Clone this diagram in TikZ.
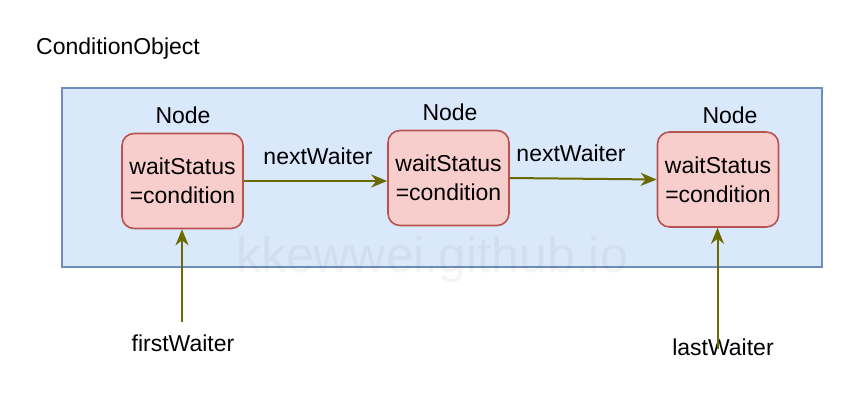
\documentclass[tikz,border=0pt]{standalone}
\usepackage{fontspec}
\setmainfont{Liberation Sans}
\usetikzlibrary{arrows.meta}
\definecolor{boxfill}{HTML}{DAE8FC}
\definecolor{boxline}{HTML}{6C8EBF}
\definecolor{nodefill}{HTML}{F8CECC}
\definecolor{nodeline}{HTML}{B85450}
\definecolor{arrowc}{HTML}{6B6A00}
\tikzset{
  txt/.style={font=\fontsize{23}{29}\selectfont, inner sep=0pt, align=center},
  waitnode/.style={draw=nodeline, fill=nodefill, line width=1.6pt, rounded corners=12pt,
     minimum width=121pt, minimum height=95pt, inner sep=0pt, align=center,
     font=\fontsize{23}{29}\selectfont},
  ptr/.style={draw=arrowc, line width=2pt, -{Stealth[length=16pt,width=13pt,inset=5pt]}}
}
\begin{document}
\begin{tikzpicture}[x=1pt,y=-1pt]
\useasboundingbox (0,0) rectangle (852,410);
\fill[white] (0,0) rectangle (852,410);
\node[txt, anchor=west] (title) at (36,48.5) {ConditionObject};
\node[draw=boxline, fill=boxfill, line width=1.6pt, minimum width=760pt, minimum height=179pt, inner sep=0pt] (obj) at (442,177.5) {};
\node[waitnode] (n1) at (182.5,181) {waitStatus\\=condition};
\node[waitnode] (n2) at (448.5,178) {waitStatus\\=condition};
\node[waitnode] (n3) at (718,179.5) {waitStatus\\=condition};
\node[txt] (l1) at (183,115) {Node};
\node[txt] (l2) at (450,112) {Node};
\node[txt] (l3) at (730,115) {Node};
\draw[ptr] (n1.east) -- (n1.east -| n2.west);
\draw[ptr] (n2.east) -- (n3.west);
\node[txt] (e1) at (318,156) {nextWaiter};
\node[txt] (e2) at (571,153) {nextWaiter};
\node[txt] (fw) at (183,343) {firstWaiter};
\node[txt] (lw) at (723,347) {lastWaiter};
\coordinate (fwtop) at (182,322);
\coordinate (lwtop) at (717.5,349);
\draw[ptr] (fwtop) -- (fwtop |- n1.south);
\draw[ptr] (lwtop) -- (lwtop |- n3.south);
\node[font=\fontsize{50}{50}\selectfont, text=black, opacity=0.04, inner sep=0pt] (wm) at (432,260) {kkewwei.github.io};
\end{tikzpicture}
\end{document}
